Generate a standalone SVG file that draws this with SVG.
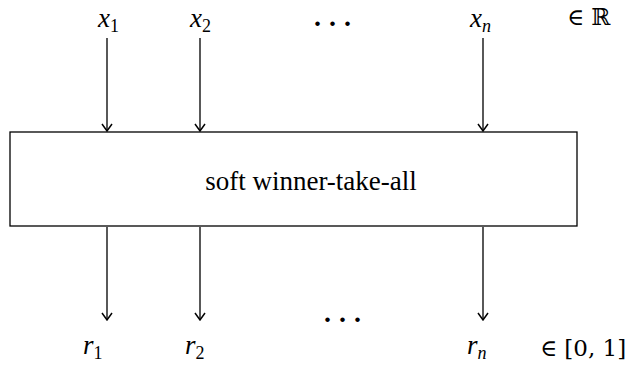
<svg xmlns="http://www.w3.org/2000/svg" width="630" height="367" viewBox="0 0 630 367">
<style>
.ln{stroke:#000;stroke-width:1.3;fill:none}
.ah{stroke:#000;stroke-width:1.5;fill:none}
.m{font-family:"Liberation Serif",serif;font-style:italic;font-size:27px}
.s{font-family:"Liberation Serif",serif;font-size:18px;font-style:normal}
.si{font-family:"Liberation Serif",serif;font-size:18px;font-style:italic}
.t{font-family:"Liberation Serif",serif;font-size:27px}
.d{font-family:"Liberation Serif",serif;font-size:28px;font-weight:bold;letter-spacing:8px}
.e{font-family:"DejaVu Serif","Liberation Serif",serif;font-size:23px}
</style>
<rect width="630" height="367" fill="#fff"/>
<g id="box">
<rect x="10" y="132" width="567" height="94" class="ln"/>
<text x="311" y="190" class="t" text-anchor="middle">soft winner-take-all</text>
</g>
<g id="inputs">
<text x="98" y="27" class="m">x<tspan class="s" dy="5">1</tspan></text>
<text x="190" y="27" class="m">x<tspan class="s" dy="5">2</tspan></text>
<text x="470" y="27" class="m">x<tspan class="si" dy="5">n</tspan></text>
<text x="314" y="26" class="d">...</text>
<text x="567" y="25" class="e">∈ ℝ</text>
</g>
<g id="outputs">
<text x="83" y="354" class="m">r<tspan class="s" dy="5">1</tspan></text>
<text x="185" y="354" class="m">r<tspan class="s" dy="5">2</tspan></text>
<text x="467" y="354" class="m">r<tspan class="si" dy="5">n</tspan></text>
<text x="324" y="322" class="d">...</text>
<text x="540" y="356" class="e">∈ [0, 1]</text>
</g>
<g id="connectors">
<path class="ln" d="M107 38V131M200 38V131M483 38V131M107 227V320M200 227V320M483 227V320"/>
<path class="ah" d="M102 124L107 131L112 124M195 124L200 131L205 124M478 124L483 131L488 124M102 313L107 320L112 313M195 313L200 320L205 313M478 313L483 320L488 313"/>
</g>
</svg>
